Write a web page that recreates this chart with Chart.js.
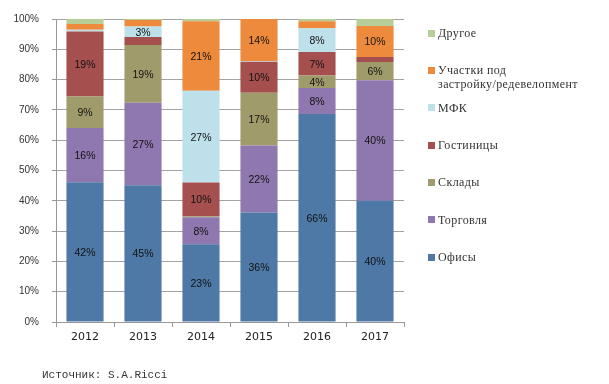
<!DOCTYPE html>
<html><head><meta charset="utf-8">
<script src="https://cdn.jsdelivr.net/npm/chart.js@4.4.1/dist/chart.umd.min.js"></script>
<style>
html,body{margin:0;padding:0;background:#fff;}
#wrap{position:relative;width:609px;height:384px;overflow:hidden;}
#c{position:absolute;left:0;top:0;}
#legend{position:absolute;left:428px;top:26px;margin:0;padding:0;list-style:none;font-family:"Liberation Serif",serif;font-size:12px;letter-spacing:0.4px;color:#333;}
#legend li{position:relative;height:37.35px;padding-left:10px;line-height:14px;width:170px;}
#legend li span.box{position:absolute;left:0;top:3.5px;width:7px;height:7px;}
#legend li span.w{white-space:nowrap;}
#source{position:absolute;left:42px;top:369px;font-family:"Liberation Mono",monospace;font-size:11px;color:#333;}
</style></head>
<body>
<div id="wrap">
<canvas id="c" width="609" height="384"></canvas>
<ul id="legend"></ul>
<div id="source">Источник: S.A.Ricci</div>
</div>
<script>
// Categories
const years = ['2012','2013','2014','2015','2016','2017'];
// Series values (share of transaction volume, %)
const ofisy      = [41.7, 45.1, 23.1, 36.2, 66.0, 40.0];
const torgovlya  = [16.2, 27.3,  8.0, 22.2,  8.2, 39.8];
const sklady     = [ 9.4, 19.0,  0.3, 17.4,  4.0,  6.0];
const gostinitsy = [19.4,  2.7, 10.0, 10.3,  7.4,  1.7];
const mfk        = [ 0.5,  3.4, 27.2,  0.2,  7.6,  0.0];
const uchastki   = [ 1.7,  2.2, 20.6, 13.9,  2.2, 10.2];
const drugoe     = [ 1.5,  0.3,  0.7,  0.0,  0.7,  2.3];
// Y tick labels
const yTicks = [0,10,20,30,40,50,60,70,80,90,100];

const series = [
  {label:'Офисы', values:ofisy, color:'#4E78A6'},
  {label:'Торговля', values:torgovlya, color:'#8F78AF'},
  {label:'Склады', values:sklady, color:'#A09B6B'},
  {label:'Гостиницы', values:gostinitsy, color:'#A5504F'},
  {label:'МФК', values:mfk, color:'#BDE0EA'},
  {label:'Участки под застройку/редевелопмент', values:uchastki, color:'#EE8A3B'},
  {label:'Другое', values:drugoe, color:'#B8CE98'}
];

const totals = years.map((_,i)=>series.reduce((s,d)=>s+d.values[i],0));

const datasets = series.map(s=>({
  label:s.label,
  rawValues:s.values,
  data:s.values.map((v,i)=>v/totals[i]*100),
  backgroundColor:s.color,
  borderWidth:0,
  barPercentage:0.64,
  categoryPercentage:1.0
}));

const labelPlugin = {
  id:'segLabels',
  afterDatasetsDraw(chart){
    const ctx=chart.ctx; ctx.save();
    ctx.font='10.5px "Liberation Sans", Arial, sans-serif';
    ctx.fillStyle='#111'; ctx.textAlign='center'; ctx.textBaseline='middle';
    chart.data.datasets.forEach((ds,di)=>{
      const meta=chart.getDatasetMeta(di);
      meta.data.forEach((el,i)=>{
        const v=ds.rawValues[i];
        if(v>=3) ctx.fillText(Math.round(v)+'%', el.x, (el.y+el.base)/2+1);
      });
    });
    ctx.restore();
  }
};

const gridCol='rgba(0,0,0,0.36)';
new Chart(document.getElementById('c'),{
  type:'bar',
  data:{labels:years, datasets},
  options:{
    responsive:false, animation:false,
    layout:{padding:{left:0,right:205,top:17,bottom:0}},
    plugins:{legend:{display:false},tooltip:{enabled:false},title:{display:false}},
    scales:{
      x:{stacked:true, z:1,
        grid:{drawOnChartArea:false, drawTicks:true, tickLength:5, color:'#999', offset:true},
        border:{display:true,color:'#999'},
        ticks:{padding:4, color:'#222', font:{family:'"DejaVu Sans", sans-serif', size:11}},
        afterFit(s){s.height=62;}
      },
      y:{stacked:true, min:0, max:100, z:1,
        afterBuildTicks(s){s.ticks=yTicks.map(v=>({value:v}));},
        grid:{color:gridCol, tickLength:4, drawTicks:true, tickColor:'#999'},
        border:{display:true,color:'#999'},
        ticks:{padding:13, color:'#333', font:{family:'"Liberation Sans", Arial, sans-serif', size:10},
          callback:v=>v+'%'},
        afterFit(s){s.width=56;}
      }
    }
  },
  plugins:[labelPlugin]
});

// Legend (reverse order, as in reference)
const ul=document.getElementById('legend');
series.slice().reverse().forEach(s=>{
  const li=document.createElement('li');
  const b=document.createElement('span'); b.className='box'; b.style.background=s.color;
  li.appendChild(b);
  s.label.split(' ').forEach((w,k)=>{
    if(k>0) li.appendChild(document.createTextNode(' '));
    const sp=document.createElement('span'); sp.className='w'; sp.textContent=w;
    li.appendChild(sp);
  });
  ul.appendChild(li);
});
</script>
</body></html>
